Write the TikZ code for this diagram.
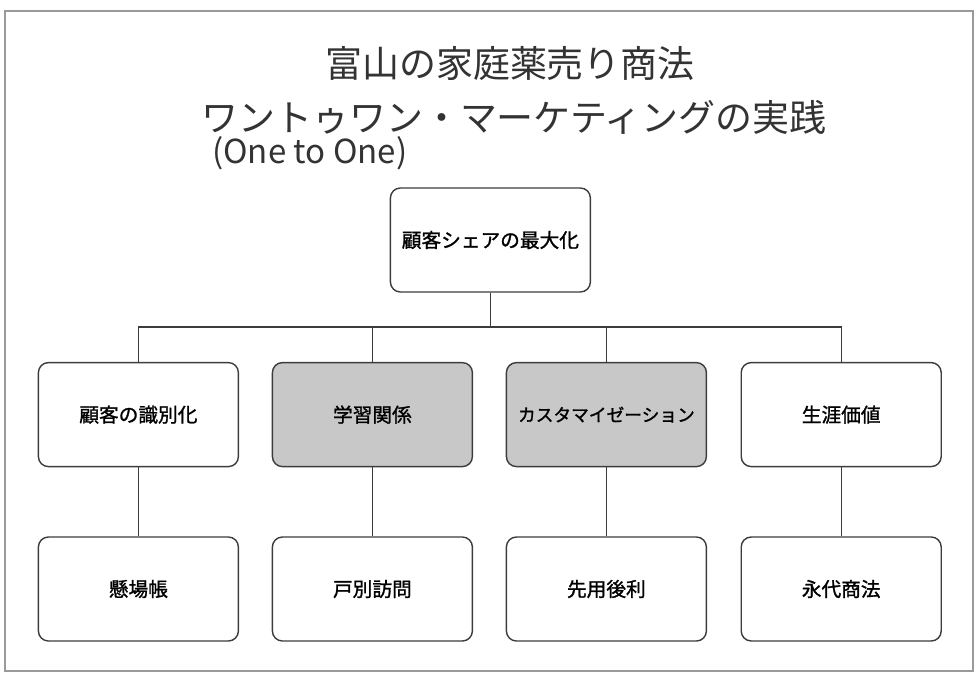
\documentclass[tikz,border=0pt]{standalone}
\usepackage{fontspec}
\usepackage{tikz}
\newfontfamily\jp{Noto Sans CJK JP}
\newfontfamily\jpb[FakeBold=1.3]{Noto Sans CJK JP}
\definecolor{framegray}{HTML}{9A9A9A}
\definecolor{linegray}{HTML}{3C3C3C}
\definecolor{fillgray}{HTML}{C8C8C8}

\tikzset{
  box/.style={draw=linegray,line width=1pt,rounded corners=0.25cm,fill=white,
    minimum width=5cm,minimum height=2.6cm,inner sep=0pt,font=\jpb\fontsize{14}{16}\selectfont},
  graybox/.style={box,fill=fillgray},
  link/.style={draw=linegray,line width=1pt}
}

\begin{document}
\begin{tikzpicture}[scale=1]
     \useasboundingbox (0,0) rectangle (24.425,16.875);
     %枠
     \draw[framegray,line width=1.2pt] (0.125,0.1) rectangle (24.325,16.6);
     %タイトル
     \node (title1) at (12.75,15.275) {\jp\fontsize{26.3}{30}\selectfont\color{black!80}富山の家庭薬売り商法};
     \node (title2) at (12.85,13.95) {\jp\fontsize{26.3}{30}\selectfont\color{black!80}ワントゥワン・マーケティングの実践};
     \node (sub) at (5.3,13.05) [right,inner sep=0pt] {\jp\fontsize{23.5}{26}\selectfont\color{black!80}(One to One)};
     
     \node (top) at (12.26,10.875) [box]{顧客シェアの最大化};
     
     \node (a1) at (3.46,6.51) [box]{顧客の識別化};
     \node (a2) at (9.31,6.51) [graybox]{学習関係};
     \node (a3) at (15.16,6.51) [graybox,font=\jpb\fontsize{12.6}{15}\selectfont]{カスタマイゼーション};
     \node (a4) at (21.03,6.51) [box]{生涯価値};
     
     \node (b1) at (3.46,2.15) [box]{懸場帳};
     \node (b2) at (9.31,2.15) [box]{戸別訪問};
     \node (b3) at (15.16,2.15) [box]{先用後利};
     \node (b4) at (21.03,2.15) [box]{永代商法};
     
     \coordinate (bus) at (12.26,8.7);
     \draw[link] (top) -- (bus);
     \draw[link] (a1.north) |- (bus) -| (a4.north);
     \foreach \i in {2,3} {
     	\draw[link] (a\i.north) -- (a\i.north |- bus);
     }
     \foreach \i in {1,2,3,4} {
     	\draw[link] (a\i) -- (b\i);
     }
\end{tikzpicture}
\end{document}
